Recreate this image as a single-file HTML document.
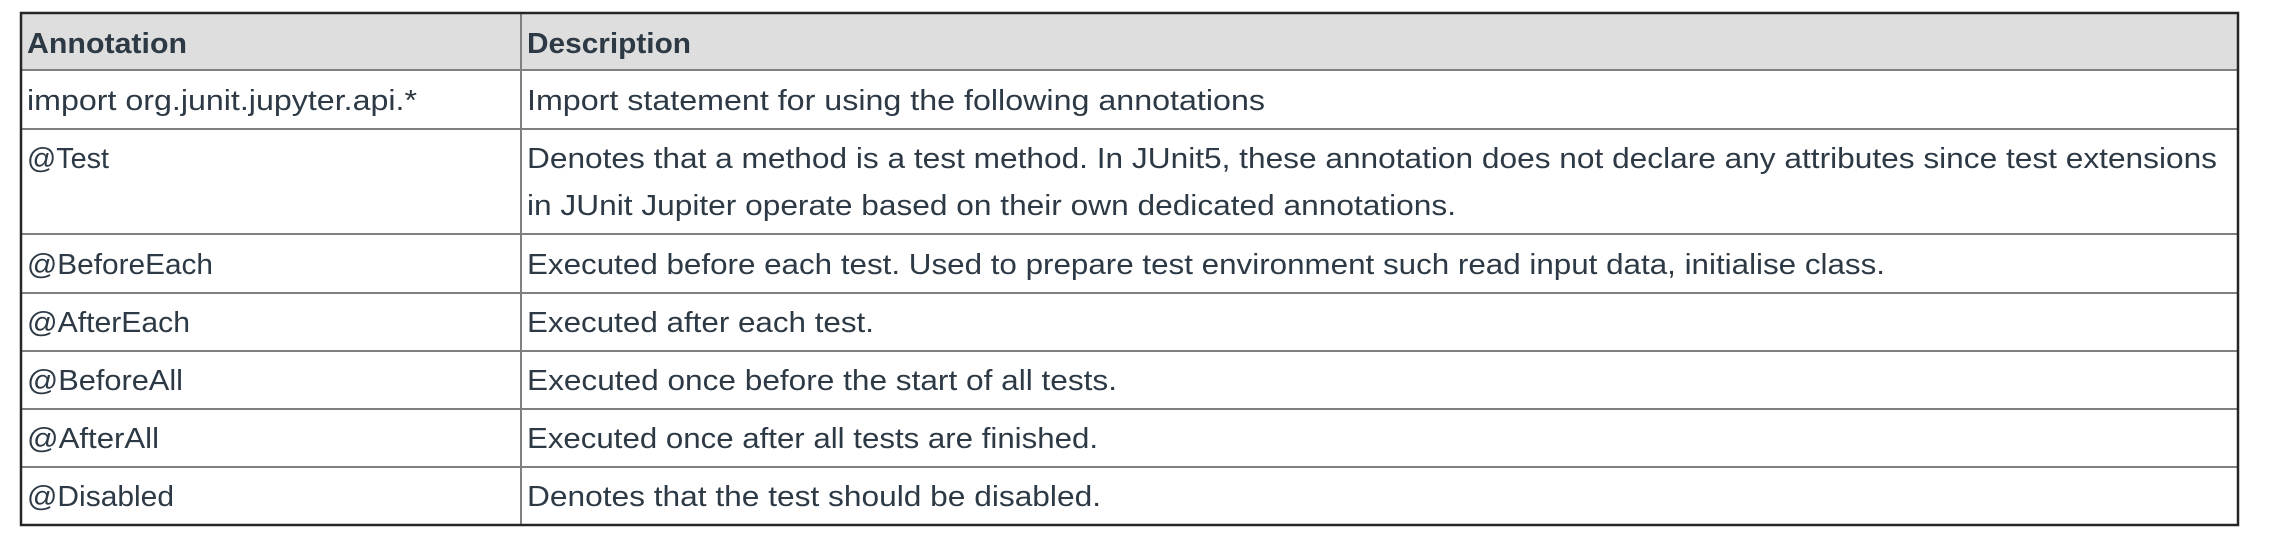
<!DOCTYPE html>
<html><head><meta charset="utf-8"><style>
html,body{margin:0;padding:0;background:#fff;}
svg{display:block;}
text{font-family:"Liberation Sans",sans-serif;font-size:29px;fill:#2d3a45;}
.h{font-weight:bold;}
</style></head><body>
<svg width="2272" height="548" viewBox="0 0 2272 548" xmlns="http://www.w3.org/2000/svg">
<rect x="21" y="13" width="2217" height="57" fill="#dedede"/>
<g stroke="#808080" stroke-width="2">
<line x1="21" y1="70" x2="2238" y2="70"/>
<line x1="21" y1="129" x2="2238" y2="129"/>
<line x1="21" y1="234" x2="2238" y2="234"/>
<line x1="21" y1="293" x2="2238" y2="293"/>
<line x1="21" y1="351" x2="2238" y2="351"/>
<line x1="21" y1="409" x2="2238" y2="409"/>
<line x1="21" y1="467" x2="2238" y2="467"/>
<line x1="521" y1="13" x2="521" y2="525"/>
</g>
<rect x="21" y="13" width="2217" height="512" fill="none" stroke="#262626" stroke-width="2.5"/>
<text class="h" x="27" y="53" textLength="160" lengthAdjust="spacingAndGlyphs">Annotation</text>
<text class="h" x="527" y="53" textLength="164" lengthAdjust="spacingAndGlyphs">Description</text>
<text x="27" y="110" textLength="390" lengthAdjust="spacingAndGlyphs">import org.junit.jupyter.api.*</text>
<text x="527" y="110" textLength="738" lengthAdjust="spacingAndGlyphs">Import statement for using the following annotations</text>
<text x="27" y="168" textLength="82" lengthAdjust="spacingAndGlyphs">@Test</text>
<text x="527" y="168" textLength="1690" lengthAdjust="spacingAndGlyphs">Denotes that a method is a test method. In JUnit5, these annotation does not declare any attributes since test extensions</text>
<text x="527" y="215" textLength="929" lengthAdjust="spacingAndGlyphs">in JUnit Jupiter operate based on their own dedicated annotations.</text>
<text x="27" y="274" textLength="186" lengthAdjust="spacingAndGlyphs">@BeforeEach</text>
<text x="527" y="274" textLength="1358" lengthAdjust="spacingAndGlyphs">Executed before each test. Used to prepare test environment such read input data, initialise class.</text>
<text x="27" y="332" textLength="163" lengthAdjust="spacingAndGlyphs">@AfterEach</text>
<text x="527" y="332" textLength="347" lengthAdjust="spacingAndGlyphs">Executed after each test.</text>
<text x="27" y="390" textLength="156" lengthAdjust="spacingAndGlyphs">@BeforeAll</text>
<text x="527" y="390" textLength="590" lengthAdjust="spacingAndGlyphs">Executed once before the start of all tests.</text>
<text x="27" y="448" textLength="132" lengthAdjust="spacingAndGlyphs">@AfterAll</text>
<text x="527" y="448" textLength="571" lengthAdjust="spacingAndGlyphs">Executed once after all tests are finished.</text>
<text x="27" y="506" textLength="147" lengthAdjust="spacingAndGlyphs">@Disabled</text>
<text x="527" y="506" textLength="574" lengthAdjust="spacingAndGlyphs">Denotes that the test should be disabled.</text>
</svg>
</body></html>
